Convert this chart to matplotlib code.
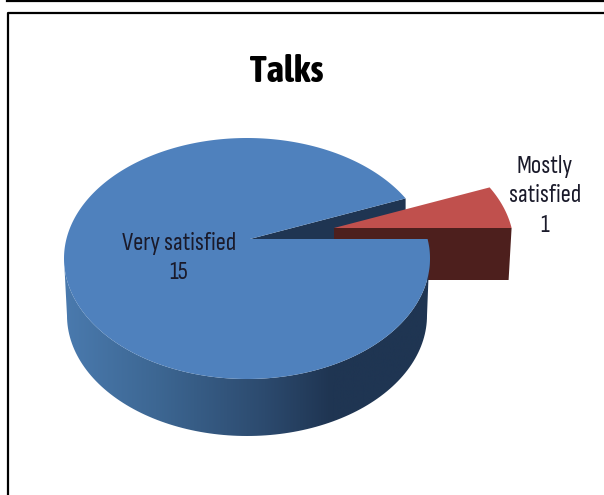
import numpy as np
import matplotlib
matplotlib.use("Agg")
import matplotlib.pyplot as plt
from matplotlib.colors import LinearSegmentedColormap
from matplotlib.patches import Polygon

categories = ["Very satisfied", "Mostly satisfied"]
values = [15, 1]
label_lines = ["Very satisfied", "Mostly\nsatisfied"]
title = "Talks"

W, H = 604, 495

# ellipse of the tilted disc, in pixels
CX, CY, RX, RY = 247, 258.5, 183, 120.5
APEX = np.array([250.0, 239.0])
TILT = 0.63
DEPTH = 57
EXPLODE = np.array([84.0, -11.0])


def rim_point(theta):
    # cast a ray from the apex and find where it leaves the ellipse
    dx, dy = np.cos(theta), -TILT * np.sin(theta)
    ox, oy = (APEX[0] - CX) / RX, (APEX[1] - CY) / RY
    a = (dx / RX) ** 2 + (dy / RY) ** 2
    b = 2 * (ox * dx / RX + oy * dy / RY)
    c = ox ** 2 + oy ** 2 - 1
    t = (-b + np.sqrt(b * b - 4 * a * c)) / (2 * a)
    return APEX + t * np.array([dx, dy])


def rim(start, end, n=120):
    return np.array([rim_point(a) for a in np.linspace(start, end, n)])


sweep = 2 * np.pi * np.array(values) / sum(values)
blue_sweep = sweep[0]
red_angle = sweep[1]

fig = plt.figure(figsize=(W / 100, H / 100), dpi=100)
ax = fig.add_axes([0, 0, 1, 1])
ax.set_xlim(0, W)
ax.set_ylim(H, 0)
ax.axis("off")

# page frame
ax.plot([7, W], [0.5, 0.5], color="black", lw=1.6, zorder=1)
ax.plot([7.5, 7.5, W], [H, 12.5, 12.5], color="black", lw=1.6, zorder=1)

# inner wall of the cut, seen through the gap
cut = rim_point(red_angle)
wall = [APEX, cut, cut + [0, DEPTH - 5], APEX + [0, DEPTH - 5]]
ax.add_patch(Polygon(wall, closed=True, fc="#1f3552", ec="none", zorder=2))

# exploded slice: side first, then top
red_top = rim(0, red_angle, 30) + EXPLODE
red_apex = APEX + EXPLODE
red_right = red_top[0]
red_side = [red_apex, red_right, red_right + [-3, 52], red_apex + [0, 52]]
ax.add_patch(Polygon(red_side, closed=True, fc="#4d1f1d", ec="none", zorder=3))
ax.add_patch(Polygon(np.vstack([red_apex, red_top]), closed=True,
                     fc="#c0504d", ec="none", zorder=4))

# side of the big slice, shaded left to right
t = np.linspace(0, np.pi, 121)
lower_half = np.column_stack([CX + (RX - 3) * np.cos(t), CY + DEPTH + RY * np.sin(t)])
upper_half = np.column_stack([CX + RX * np.cos(t), CY + RY * np.sin(t)])
body = np.vstack([[[CX + RX, APEX[1]]], lower_half, upper_half[::-1]])
shade = LinearSegmentedColormap.from_list(
    "side", [(0, "#4a7aae"), (0.25, "#3d6793"), (0.55, "#2c4a6e"),
             (0.73, "#1f3552"), (1, "#1f3552")])
img = ax.imshow(np.linspace(0, 1, 256).reshape(1, -1), cmap=shade, aspect="auto",
                extent=[CX - RX, CX + RX, CY + DEPTH + RY, CY - RY], zorder=5)
ax.set_xlim(0, W)
ax.set_ylim(H, 0)
clip = Polygon(body, closed=True, fc="none", ec="none", transform=ax.transData)
ax.add_patch(clip)
img.set_clip_path(clip)

# top of the big slice
blue_top = rim(red_angle, red_angle + blue_sweep, 360)
ax.add_patch(Polygon(np.vstack([APEX, blue_top]), closed=True,
                     fc="#4f81bd", ec="none", zorder=6))

ax.text(287, 72, title, ha="center", va="center", fontsize=27, fontweight="bold",
        family=["Asap Condensed", "Liberation Sans"], color="black", zorder=7)
narrow = ["Sofia Sans Condensed", "Archivo Narrow", "Liberation Sans"]
ax.text(179, 258, f"{label_lines[0]}\n{values[0]}", ha="center", va="center",
        fontsize=18, family=narrow, color="#1a1a2a", linespacing=1.38, zorder=7)
ax.text(545, 196, f"{label_lines[1]}\n{values[1]}", ha="center", va="center",
        fontsize=18, family=narrow, color="#1a1a2a", linespacing=1.38, zorder=7)

fig.savefig("out.png", dpi=100, facecolor="white")
